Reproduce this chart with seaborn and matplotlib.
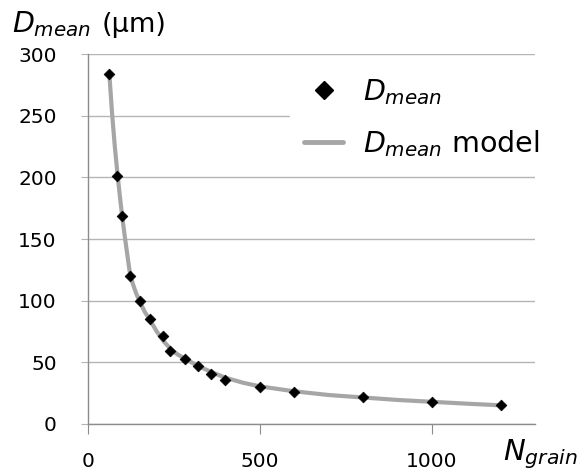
import numpy as np
import pandas as pd
import matplotlib
matplotlib.use("Agg")
import matplotlib.pyplot as plt
import seaborn as sns
from matplotlib.lines import Line2D

n_grain = [62, 84, 100, 121, 150, 181, 218, 238, 282, 320, 359, 399, 500, 600, 800, 1000, 1200]
d_mean = [284, 201, 169, 120, 100, 85, 71.5, 59, 52.6, 47, 40.6, 35.8, 30, 26, 22, 18, 15]

# model curve
model_n = [62, 70, 78, 86, 93, 100, 108, 115, 121, 130, 140, 150, 165, 181, 200, 220, 240, 260, 282,
           320, 360, 400, 450, 500, 600, 700, 800, 900, 1000, 1100, 1210]
model_d = [284, 252, 225, 202, 184, 167, 150, 136, 124, 114, 106, 99.5, 91, 84, 75, 67, 61, 56.5, 53,
           47, 42, 37.5, 33.5, 30.5, 26.5, 23.5, 21.5, 19.5, 18, 16.5, 15]

sns.set_style("white")
plt.rcParams['font.family'] = ['DejaVu Sans']
plt.rcParams['mathtext.fontset'] = 'dejavusans'
plt.rcParams['text.color'] = 'black'

fig = plt.figure(figsize=(5.77, 4.73), dpi=100)
ax = fig.add_axes([0.1525, 0.1036, 0.7747, 0.7822])

model_df = pd.DataFrame({"N": model_n, "D": model_d})
data_df = pd.DataFrame({"N": n_grain, "D": d_mean})

sns.lineplot(data=model_df, x="N", y="D", ax=ax, color="#a6a6a6", linewidth=3, zorder=2)
sns.scatterplot(data=data_df, x="N", y="D", ax=ax, marker="D", color="black", s=30,
                edgecolor="black", linewidth=0.5, zorder=3)

ax.set_xlim(0, 1300)
ax.set_ylim(0, 300)
ax.set_xticks([0, 500, 1000])
ax.set_yticks(range(0, 301, 50))
ax.set_xlabel("")
ax.set_ylabel("")
ax.yaxis.grid(True, color="#b5b5b5", linewidth=1)
ax.set_axisbelow(True)
for s in ["top", "right"]:
    ax.spines[s].set_visible(False)
for s in ["left", "bottom"]:
    ax.spines[s].set_color("#8c8c8c")
    ax.spines[s].set_linewidth(1)
ax.tick_params(axis="x", direction="out", length=7, color="#8c8c8c", labelsize=14.5, pad=13)
ax.tick_params(axis="y", direction="out", length=5, color="#b5b5b5", labelsize=14.5, pad=17.5)
ax.tick_params(labelcolor="black")
ax.xaxis.set_ticks_position("bottom")
ax.yaxis.set_ticks_position("left")

handles = [
    Line2D([], [], marker="D", color="black", linestyle="none", markersize=9),
    Line2D([], [], color="#a6a6a6", linewidth=3.5),
]
labels = [r"$\mathit{D}_{\mathit{mean}}$", r"$\mathit{D}_{\mathit{mean}}$ model"]
leg = ax.legend(handles, labels, loc="upper left", bbox_to_anchor=(0.503, 0.867),
                bbox_transform=fig.transFigure, frameon=True, fontsize=20.5,
                handlelength=1.35, handletextpad=0.7, labelspacing=0.75, borderpad=0.5,
                borderaxespad=0)
leg.get_frame().set_edgecolor("white")
leg.get_frame().set_facecolor("white")
leg.get_frame().set_alpha(1)
leg.set_zorder(5)
for t in leg.get_texts():
    t.set_color("black")

fig.text(0.02, 0.932, r"$\mathit{D}_{\mathit{mean}}$", fontsize=20.5, ha="left", va="baseline")
fig.text(0.176, 0.932, "(µm)", fontsize=19.5, ha="left", va="baseline")
fig.text(0.872, 0.0275, r"$\mathit{N}_{\mathit{grain}}$", fontsize=21, ha="left", va="baseline")

fig.savefig("out.png", dpi=100)
